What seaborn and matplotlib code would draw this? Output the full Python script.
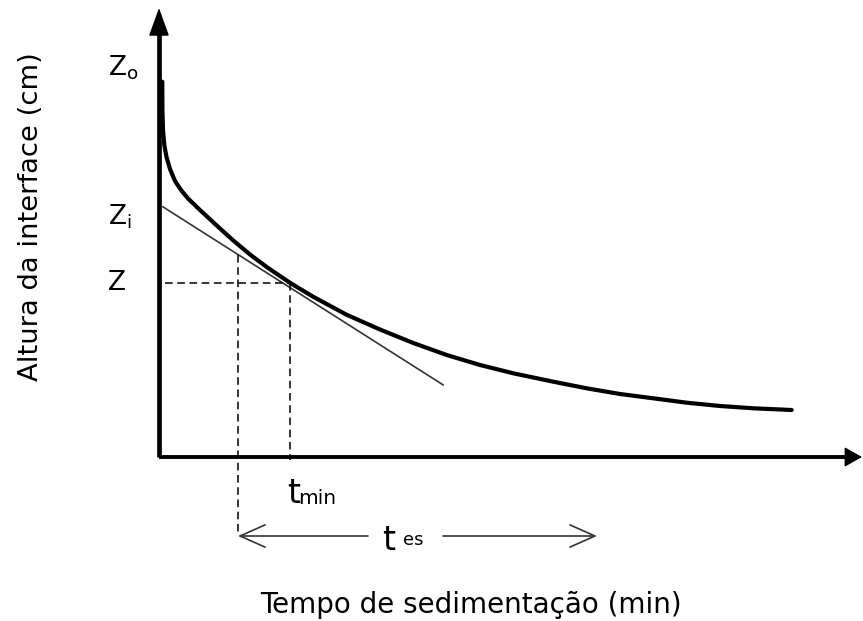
import matplotlib
matplotlib.use("Agg")
import matplotlib.pyplot as plt
import seaborn as sns
import pandas as pd

# ---- data (arbitrary units: t in min, z in cm) ----
curve_t = [0.33, 0.34, 0.4, 0.53, 0.75, 1.1, 1.6, 2.2, 2.9, 4.1, 5.77, 7.43,
           9.1, 10.77, 13.1, 15.43, 18.77, 22.1, 25.43, 28.77, 32.1, 35.43,
           39.43, 42.77, 46.1, 49.43, 52.77, 56.1, 59.43, 63.27]
curve_z = [37.53, 34.7, 32.7, 31.2, 30.0, 28.8, 27.6, 26.7, 25.85, 24.7, 23.15, 21.65,
           20.25, 19.0, 17.42, 16.02, 14.22, 12.75, 11.4, 10.2, 9.2, 8.37,
           7.53, 6.87, 6.3, 5.87, 5.43, 5.1, 4.87, 4.7]
tangent_t = [0.37, 28.43]
tangent_z = [25.03, 7.2]
t_min = 13.1
z_point = 17.42
t_start = 7.9
z_start = 20.2
t_es_end = 43.8
z_es = -7.9
t_axis_end = 70.3
z_axis_end = 44.9
z_o_level = 38.9
z_i_level = 24.0

sns.set_style("white")
plt.rcParams['font.family'] = ['DejaVu Sans']
plt.rcParams['text.color'] = 'black'

fig = plt.figure(figsize=(8.63, 6.21), dpi=100)
ax = fig.add_axes([0, 0, 1, 1])
ax.set_xlim(-15.9, 70.4)
ax.set_ylim(-16.4, 45.7)
ax.axis('off')

# axes with arrows
ax.plot([0, 0], [0, z_axis_end - 2.0], color='black', lw=3.4, solid_capstyle='butt')
ax.plot([0, t_axis_end - 1.0], [0, 0], color='black', lw=2.8, solid_capstyle='butt')
ax.annotate('', xy=(0, z_axis_end), xytext=(0, z_axis_end - 2.6),
            arrowprops=dict(arrowstyle='-|>,head_length=1.8,head_width=0.65',
                            mutation_scale=10, color='black', lw=1, shrinkA=0, shrinkB=0))
ax.annotate('', xy=(t_axis_end, 0), xytext=(t_axis_end - 1.6, 0),
            arrowprops=dict(arrowstyle='-|>,head_length=1.1,head_width=0.62',
                            mutation_scale=10, color='black', lw=1, shrinkA=0, shrinkB=0))

# main curve
df_curve = pd.DataFrame({'t': curve_t, 'z': curve_z})
sns.lineplot(data=df_curve, x='t', y='z', sort=False, estimator=None,
             color='black', lw=3.0, ax=ax)

# tangent
df_tan = pd.DataFrame({'t': tangent_t, 'z': tangent_z})
sns.lineplot(data=df_tan, x='t', y='z', sort=False, estimator=None,
             color='#333333', lw=1.2, ax=ax)

# dashed guide lines
ds = (0, (5, 3))
ax.plot([0.6, t_min], [z_point, z_point], color='black', lw=1.1, ls=ds)
ax.plot([t_min, t_min], [z_point, -0.3], color='black', lw=1.1, ls=ds)
ax.plot([t_start, t_start], [z_start, z_es], color='black', lw=1.1, ls=ds)

# t_es double arrow (with gap for label)
ap = dict(arrowstyle='->,head_length=0.9,head_width=0.4', mutation_scale=20,
          color='#333333', lw=1.2, shrinkA=0, shrinkB=0)
ax.annotate('', xy=(t_start, z_es), xytext=(20.9, z_es), arrowprops=ap)
ax.annotate('', xy=(t_es_end, z_es), xytext=(28.4, z_es), arrowprops=ap)

# labels
ax.text(22.3, -9.3, 't', fontsize=24, ha='left', va='baseline', color='black')
ax.text(24.4, -8.8, 'es', fontsize=13, ha='left', va='baseline', color='black')
ax.text(12.8, -4.6, 't', fontsize=24, ha='left', va='baseline', color='black')
ax.text(13.95, -4.7, 'min', fontsize=14.5, ha='left', va='baseline', color='black')

ax.text(-5.1, z_o_level, r'$\mathregular{Z_o}$', fontsize=19, ha='left', va='center', color='black')
ax.text(-5.1, z_i_level, r'$\mathregular{Z_i}$', fontsize=19, ha='left', va='center', color='black')
ax.text(-5.1, z_point, 'Z', fontsize=19, ha='left', va='center', color='black')

ax.text(-12.8, 24.0, 'Altura da interface (cm)', fontsize=19.7, rotation=90,
        ha='center', va='center', color='black')
ax.text(10.1, -15.6, 'Tempo de sedimentação (min)', fontsize=20,
        ha='left', va='baseline', color='black')

fig.savefig('out.png', dpi=100)
